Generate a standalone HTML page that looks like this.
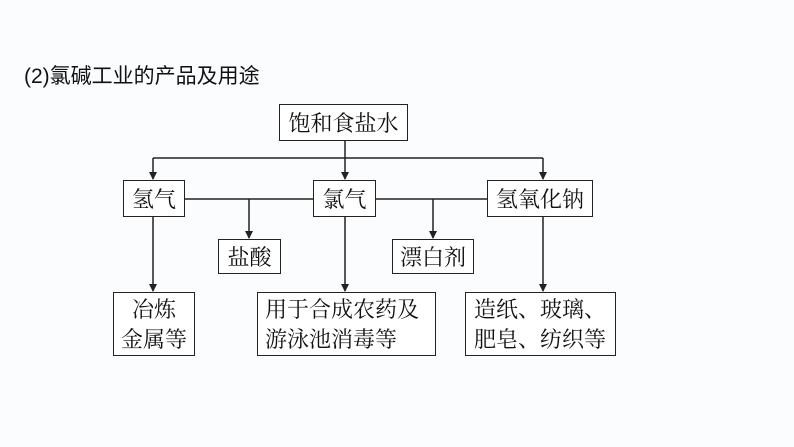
<!DOCTYPE html>
<html><head><meta charset="utf-8"><style>
body{margin:0;width:794px;height:447px;background:#fbfcfe;overflow:hidden;position:relative;font-family:"Liberation Serif","Noto Serif CJK SC",serif;}
.t{position:absolute;left:24px;top:60px;font-family:"Liberation Sans","Noto Sans CJK SC",sans-serif;font-size:21px;color:#111;white-space:nowrap}
.b{position:absolute;border:1.5px solid #222;background:#fff;box-sizing:border-box;display:flex;align-items:center;justify-content:center;font-family:"Noto Serif CJK SC","Liberation Serif",serif;font-size:22px;line-height:30px;color:#111;text-align:center;white-space:nowrap}
svg{position:absolute;left:0;top:0}
</style></head><body>
<div class="t">(2)氯碱工业的产品及用途</div>
<svg width="794" height="447">
<defs><marker id="a" markerWidth="8" markerHeight="8" refX="7" refY="4" orient="auto" markerUnits="userSpaceOnUse"><path d="M0,0 L8,4 L0,8 Z" fill="#222"/></marker></defs>
<g stroke="#222" stroke-width="1.5" fill="none">
<line x1="345" y1="141" x2="345" y2="179" marker-end="url(#a)"/>
<line x1="153" y1="158" x2="543" y2="158"/>
<line x1="153" y1="158" x2="153" y2="179" marker-end="url(#a)"/>
<line x1="543" y1="158" x2="543" y2="179" marker-end="url(#a)"/>
<line x1="185" y1="199" x2="487" y2="199"/>
<line x1="249" y1="199" x2="249" y2="238" marker-end="url(#a)"/>
<line x1="433" y1="199" x2="433" y2="238" marker-end="url(#a)"/>
<line x1="153" y1="217" x2="153" y2="291" marker-end="url(#a)"/>
<line x1="345" y1="217" x2="345" y2="291" marker-end="url(#a)"/>
<line x1="543" y1="217" x2="543" y2="291" marker-end="url(#a)"/>
</g></svg>
<div class="b" style="left:279px;top:104px;width:129px;height:37px">饱和食盐水</div>
<div class="b" style="left:123px;top:180px;width:62px;height:37px">氢气</div>
<div class="b" style="left:313px;top:180px;width:63px;height:37px">氯气</div>
<div class="b" style="left:487px;top:180px;width:106px;height:37px">氢氧化钠</div>
<div class="b" style="left:218px;top:239px;width:63px;height:35px">盐酸</div>
<div class="b" style="left:392px;top:239px;width:82px;height:35px">漂白剂</div>
<div class="b" style="left:113px;top:292px;width:82px;height:64px">冶炼<br>金属等</div>
<div class="b" style="left:257px;top:292px;width:179px;height:64px;justify-content:flex-start;padding-left:7px;text-align:left">用于合成农药及<br>游泳池消毒等</div>
<div class="b" style="left:465px;top:292px;width:151px;height:64px;justify-content:flex-start;padding-left:8px;text-align:left">造纸、玻璃、<br>肥皂、纺织等</div>
</body></html>
